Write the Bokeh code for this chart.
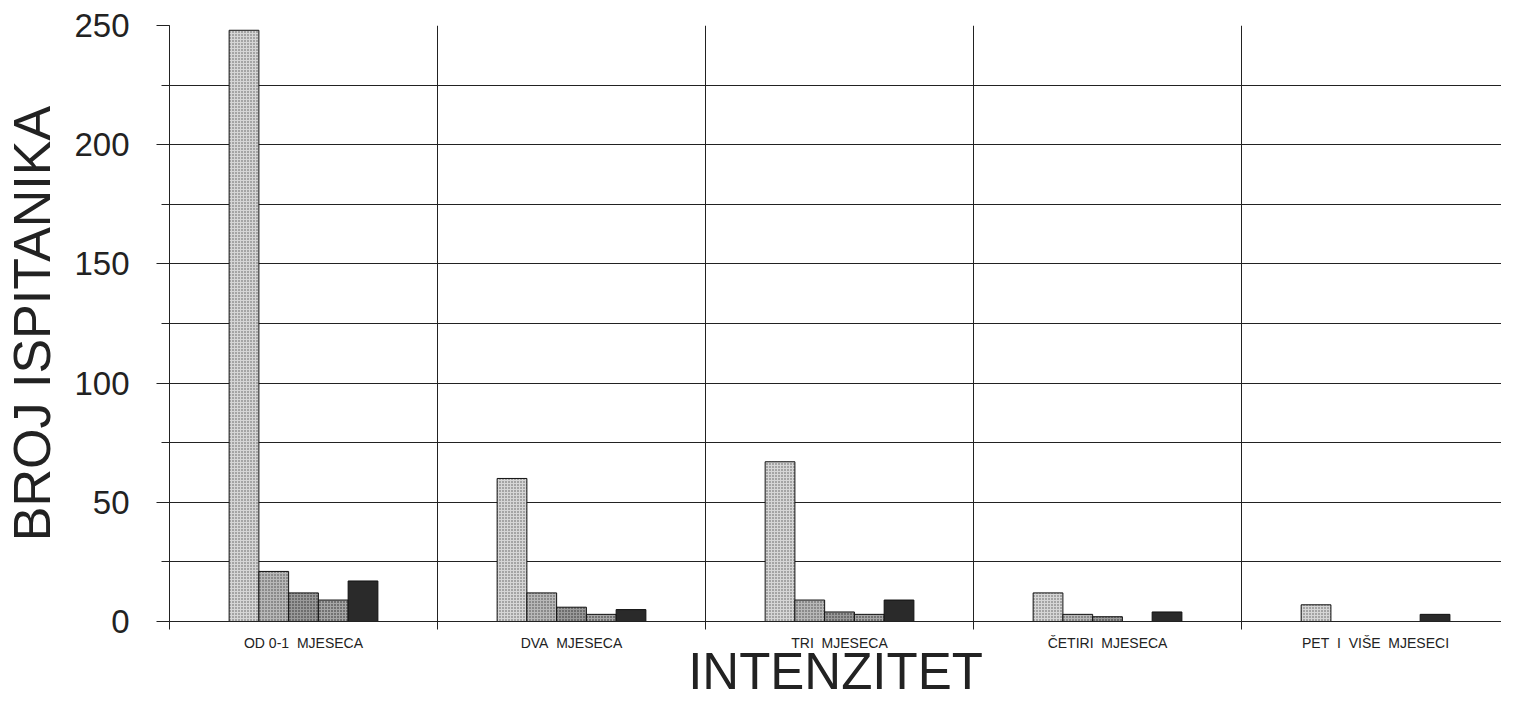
from bokeh.plotting import figure
from bokeh.models import ColumnDataSource, Range1d, FixedTicker, SingleIntervalTicker
from bokeh.transform import dodge
from bokeh.embed import file_html
from bokeh.resources import INLINE

categories = ["OD 0-1\u00a0\u00a0MJESECA", "DVA\u00a0\u00a0MJESECA", "TRI\u00a0\u00a0MJESECA",
              "ČETIRI\u00a0\u00a0MJESECA", "PET\u00a0\u00a0I\u00a0\u00a0VIŠE\u00a0\u00a0MJESECI"]
series_names = ["s1", "s2", "s3", "s4", "s5"]
s1 = [248, 60, 67, 12, 7]
s2 = [21, 12, 9, 3, 0]
s3 = [12, 6, 4, 2, 0]
s4 = [9, 3, 3, 0, 0]
s5 = [17, 5, 9, 4, 3]
y_ticks_interval = 50

centers = [i + 0.5 for i in range(len(categories))]
source = ColumnDataSource(dict(x=centers, s1=s1, s2=s2, s3=s3, s4=s4, s5=s5))

FONT = "Liberation Sans"

p = figure(width=1501, height=702, output_backend="svg", toolbar_location=None,
           x_range=Range1d(0, 4.97), y_range=Range1d(0, 250),
           min_border_top=25, min_border_right=0, min_border_left=0, min_border_bottom=79)
p.outline_line_color = None
p.background_fill_color = "white"
p.border_fill_color = "white"

styles = [
    dict(fill_color="#d6d6d6", hatch_pattern=".", hatch_color="#5a5a5a", hatch_scale=3, hatch_weight=1),
    dict(fill_color="#b8b8b8", hatch_pattern=".", hatch_color="#444444", hatch_scale=3, hatch_weight=1),
    dict(fill_color="#9a9a9a", hatch_pattern=".", hatch_color="#2a2a2a", hatch_scale=3, hatch_weight=1),
    dict(fill_color="#a6a6a6", hatch_pattern=".", hatch_color="#222222", hatch_scale=3, hatch_weight=1),
    dict(fill_color="#2a2a2a"),
]
bw = 0.111
offsets = [-2 * bw, -bw, 0, bw, 2 * bw]
for name, off, st in zip(series_names, offsets, styles):
    p.vbar(x=dodge("x", off, range=p.x_range), top=name, width=bw, bottom=0, source=source,
           line_color="#111111", line_width=1, **st)

# grids
p.xgrid.ticker = FixedTicker(ticks=[1, 2, 3, 4, 5])
p.xgrid.grid_line_color = "#222222"
p.xgrid.grid_line_width = 1
p.ygrid.grid_line_color = "#222222"
p.ygrid.minor_grid_line_color = "#222222"
p.ygrid.grid_line_width = 1

# y axis
p.yaxis.ticker = SingleIntervalTicker(interval=y_ticks_interval, num_minor_ticks=2)
p.yaxis.axis_label = "BROJ ISPITANIKA"
p.yaxis.axis_label_text_font = FONT
p.yaxis.axis_label_text_font_size = "52px"
p.yaxis.axis_label_text_font_style = "normal"
p.yaxis.axis_label_text_color = "#222222"
p.yaxis.axis_label_standoff = 10
p.yaxis.major_label_text_font = FONT
p.yaxis.major_label_text_font_size = "33px"
p.yaxis.major_label_text_color = "#222222"
p.yaxis.major_label_standoff = 27
p.yaxis.major_tick_out = 13
p.yaxis.major_tick_in = 0
p.yaxis.minor_tick_out = 8
p.yaxis.minor_tick_in = 0
p.yaxis.axis_line_color = "#222222"
p.yaxis.major_tick_line_color = "#222222"
p.yaxis.minor_tick_line_color = "#222222"

# x axis
p.xaxis.ticker = FixedTicker(ticks=centers, minor_ticks=[0, 1, 2, 3, 4, 5])
p.xaxis.major_label_overrides = {c: lab for c, lab in zip(centers, categories)}
p.xaxis.major_label_text_font = FONT
p.xaxis.major_label_text_font_size = "14px"
p.xaxis.major_label_text_color = "#222222"
p.xaxis.major_label_standoff = 5
p.xaxis.major_tick_out = 0
p.xaxis.major_tick_in = 0
p.xaxis.minor_tick_out = 8
p.xaxis.minor_tick_in = 0
p.xaxis.axis_line_color = "#222222"
p.xaxis.minor_tick_line_color = "#222222"
p.xaxis.axis_label = "INTENZITET"
p.xaxis.axis_label_text_font = FONT
p.xaxis.axis_label_text_font_size = "51px"
p.xaxis.axis_label_text_font_style = "normal"
p.xaxis.axis_label_text_color = "#222222"
p.xaxis.axis_label_standoff = -11

open("out.html", "w").write(file_html(p, INLINE))
